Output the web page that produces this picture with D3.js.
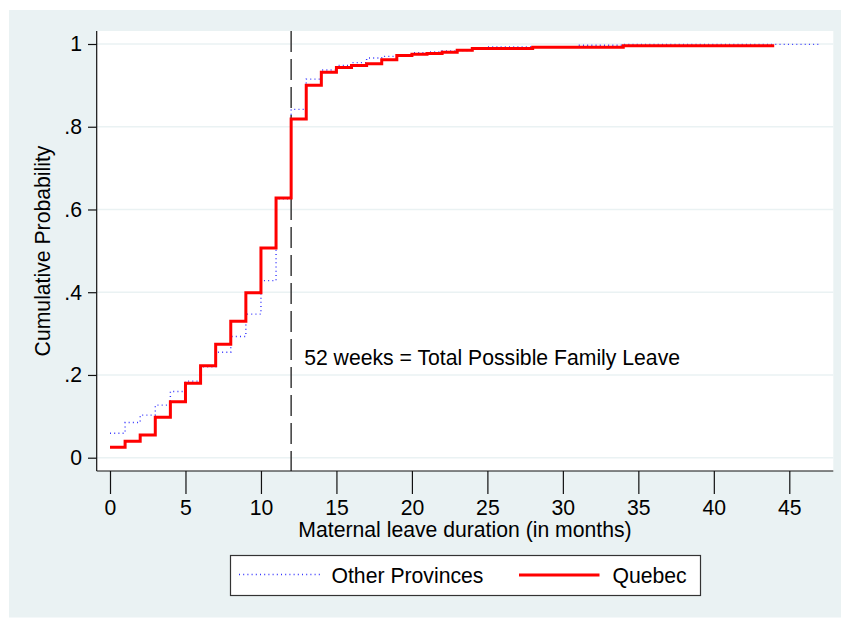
<!DOCTYPE html>
<html>
<head>
<meta charset="utf-8">
<script src="https://cdn.jsdelivr.net/npm/d3@7/dist/d3.min.js"></script>
<style>
  html, body { margin: 0; padding: 0; background: #ffffff; }
  svg { display: block; }
  text { font-family: "Liberation Sans", Arial, Helvetica, sans-serif; fill: #000; }
</style>
</head>
<body>
<svg id="chart" width="841" height="618"></svg>
<script>
// ---- data ----
const quebecMonths = [0,1,2,3,4,5,6,7,8,9,10,11,12,13,14,15,16,17,18,19,20,21,22,23,24,28,34,44];
const quebecValues = [0.025,0.040,0.055,0.098,0.135,0.180,0.222,0.274,0.330,0.399,0.507,0.628,0.819,0.900,0.932,0.943,0.948,0.952,0.962,0.972,0.975,0.977,0.980,0.985,0.989,0.992,0.996,0.996];

const otherMonths = [0,1,2,3,4,5,6,7,8,9,10,11,12,13,14,15,16,17,18,19,20,21,22,23,24,25,31,34,47];
const otherValues = [0.059,0.085,0.103,0.127,0.160,0.185,0.220,0.255,0.293,0.347,0.428,0.626,0.842,0.915,0.937,0.948,0.955,0.966,0.970,0.974,0.979,0.981,0.983,0.984,0.989,0.993,0.997,0.999,0.999];

const xTicks = [0,5,10,15,20,25,30,35,40,45];
const yTicks = [0,0.2,0.4,0.6,0.8,1];
const yTickLabels = ["0",".2",".4",".6",".8","1"];

const seriesNames = ["Other Provinces","Quebec"];
const xTitle = "Maternal leave duration (in months)";
const yTitle = "Cumulative Probability";
const refLineMonth = 12;
const annotationText = "52 weeks = Total Possible Family Leave";
const annotationAt = [12.86, 0.223];

// ---- layout ----
const svg = d3.select("#chart");
const W = 841, H = 618;
const bg = "#EAF2F3";
const plot = {left: 96.7, right: 833.3, top: 31, bottom: 471};

const x = d3.scaleLinear().domain([0, 45]).range([110, 789.3]);
const y = d3.scaleLinear().domain([0, 1]).range([457.7, 44]);

const fontSize = 21.2;

// graph region background
svg.append("rect").attr("x", 9).attr("y", 10).attr("width", W - 9).attr("height", H - 10.5).attr("fill", bg);

// plot region
svg.append("rect")
  .attr("x", plot.left).attr("y", plot.top)
  .attr("width", plot.right - plot.left).attr("height", plot.bottom - plot.top)
  .attr("fill", "#ffffff");

// gridlines
svg.append("g").selectAll("line").data(yTicks).join("line")
  .attr("x1", plot.left).attr("x2", plot.right)
  .attr("y1", d => y(d)).attr("y2", d => y(d))
  .attr("stroke", bg).attr("stroke-width", 1.6);

// reference dashed line
svg.append("line")
  .attr("x1", x(refLineMonth)).attr("x2", x(refLineMonth))
  .attr("y1", plot.top).attr("y2", plot.bottom)
  .attr("stroke", "#3a3a3a").attr("stroke-width", 1.5)
  .attr("stroke-dasharray", "21,7");

// series
const lineGen = d3.line().curve(d3.curveStepAfter).x(d => x(d[0])).y(d => y(d[1]));
const otherData = otherMonths.map((m, i) => [m, otherValues[i]]);
const quebecData = quebecMonths.map((m, i) => [m, quebecValues[i]]);

svg.append("path").datum(otherData)
  .attr("d", lineGen).attr("fill", "none")
  .attr("stroke", "#3535ff").attr("stroke-width", 1.4)
  .attr("stroke-dasharray", "1,3.2");

svg.append("path").datum(quebecData)
  .attr("d", lineGen).attr("fill", "none")
  .attr("stroke", "#ff0000").attr("stroke-width", 3)
  .attr("stroke-linejoin", "miter");

// annotation
svg.append("text")
  .attr("x", x(annotationAt[0])).attr("y", y(annotationAt[1]))
  .attr("font-size", fontSize)
  .text(annotationText);

// axes lines
svg.append("line").attr("x1", plot.left).attr("x2", plot.left)
  .attr("y1", plot.top).attr("y2", plot.bottom)
  .attr("stroke", "#111").attr("stroke-width", 1.2);
svg.append("line").attr("x1", plot.left).attr("x2", plot.right)
  .attr("y1", plot.bottom).attr("y2", plot.bottom)
  .attr("stroke", "#111").attr("stroke-width", 1.2);

// x axis
const xAxis = d3.axisBottom(x).tickValues(xTicks).tickSize(23).tickPadding(5.5).tickFormat(d3.format("d"));
const gx = svg.append("g").attr("transform", `translate(0,${plot.bottom})`).call(xAxis);
gx.select(".domain").remove();
gx.selectAll(".tick line").attr("stroke", "#111").attr("stroke-width", 1.2);
gx.selectAll(".tick text").attr("font-size", fontSize).attr("font-family", null).attr("fill", "#000");

// y axis
const yAxis = d3.axisLeft(y).tickValues(yTicks).tickSize(8.7).tickPadding(6)
  .tickFormat((d, i) => yTickLabels[i]);
const gy = svg.append("g").attr("transform", `translate(${plot.left},0)`).call(yAxis);
gy.select(".domain").remove();
gy.selectAll(".tick line").attr("stroke", "#111").attr("stroke-width", 1.2);
gy.selectAll(".tick text").attr("font-size", fontSize).attr("font-family", null).attr("fill", "#000");

// axis titles
svg.append("text")
  .attr("x", (plot.left + plot.right) / 2).attr("y", 536.5)
  .attr("text-anchor", "middle").attr("font-size", fontSize)
  .text(xTitle);

svg.append("text")
  .attr("transform", `translate(50,${(plot.top + plot.bottom) / 2}) rotate(-90)`)
  .attr("text-anchor", "middle").attr("font-size", fontSize)
  .text(yTitle);

// legend
const lg = svg.append("g");
lg.append("rect").attr("x", 230.5).attr("y", 555.5).attr("width", 470).attr("height", 40)
  .attr("fill", "#ffffff").attr("stroke", "#333").attr("stroke-width", 1.2);
lg.append("line").attr("x1", 239).attr("x2", 320).attr("y1", 574.5).attr("y2", 574.5)
  .attr("stroke", "#3535ff").attr("stroke-width", 1.4).attr("stroke-dasharray", "1,3.2");
lg.append("text").attr("x", 331.5).attr("y", 582.5).attr("font-size", fontSize).text(seriesNames[0]);
lg.append("line").attr("x1", 519).attr("x2", 599.5).attr("y1", 575).attr("y2", 575)
  .attr("stroke", "#ff0000").attr("stroke-width", 3);
lg.append("text").attr("x", 612.5).attr("y", 582.5).attr("font-size", fontSize).text(seriesNames[1]);
</script>
</body>
</html>
